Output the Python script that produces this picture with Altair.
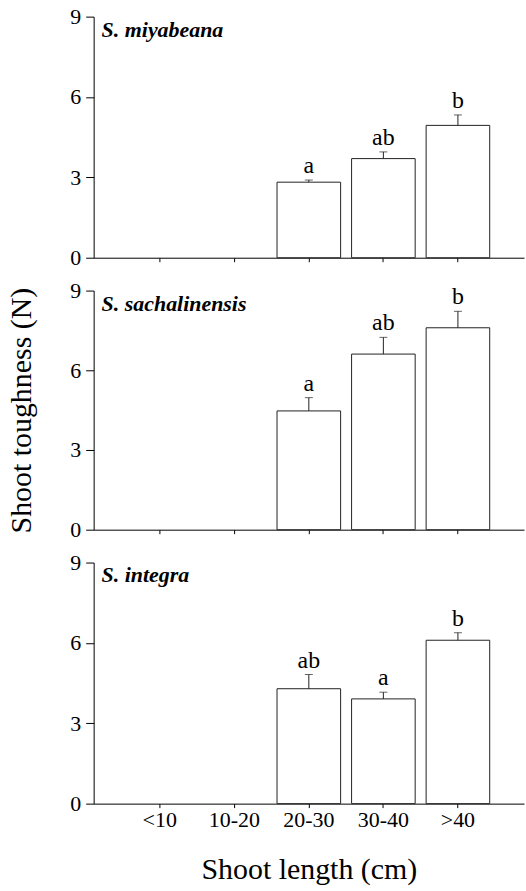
import altair as alt
import pandas as pd

categories = ["<10", "10-20", "20-30", "30-40", ">40"]
bar_cats = ["20-30", "30-40", ">40"]

species = ["S. miyabeana", "S. sachalinensis", "S. integra"]

miyabeana_mean = [2.82, 3.70, 4.94]
miyabeana_se = [0.08, 0.25, 0.39]
miyabeana_letters = ["a", "ab", "b"]

sachalinensis_mean = [4.47, 6.61, 7.60]
sachalinensis_se = [0.50, 0.63, 0.62]
sachalinensis_letters = ["a", "ab", "b"]

integra_mean = [4.29, 3.91, 6.10]
integra_se = [0.53, 0.25, 0.28]
integra_letters = ["ab", "a", "b"]

y_ticks = [0, 3, 6, 9]

FONT = "Liberation Serif, Times New Roman, serif"
W = 432


def panel(name, means, ses, letters, height, show_x, show_ytitle):
    df = pd.DataFrame({
        "cat": bar_cats,
        "mean": means,
        "top": [m + s for m, s in zip(means, ses)],
        "letter": letters,
    })
    xscale = alt.Scale(domain=categories, paddingInner=0.147, paddingOuter=0.46)
    xaxis = alt.Axis(
        title="Shoot length (cm)" if show_x else None,
        labels=show_x,
        labelAngle=0,
        labelFont=FONT, labelFontSize=22, labelColor="black", labelPadding=2,
        titleFont=FONT, titleFontSize=30, titleFontWeight="normal", titleColor="black",
        titlePadding=24,
        tickSize=4, tickColor="black", domainColor="black",
    )
    yaxis = alt.Axis(
        title="Shoot toughness (N)",
        titleOpacity=1 if show_ytitle else 0,
        values=y_ticks, grid=False,
        labelFont=FONT, labelFontSize=22, labelColor="black", labelPadding=5,
        titleFont=FONT, titleFontSize=30, titleFontWeight="normal", titleColor="black",
        titlePadding=33,
        tickSize=8, tickColor="black", domainColor="black",
    )
    x = alt.X("cat:N", scale=xscale, axis=xaxis, sort=categories)
    yscale = alt.Scale(domain=[0, 9], nice=False)
    base = alt.Chart(df)
    bars = base.mark_bar(fill="white", stroke="#222222", strokeWidth=1).encode(
        x=x, y=alt.Y("mean:Q", scale=yscale, axis=yaxis)
    )
    rules = base.mark_rule(color="#222222", strokeWidth=1).encode(
        x=alt.X("cat:N", sort=categories), y="mean:Q", y2="top:Q"
    )
    caps = base.mark_tick(color="#222222", size=8, thickness=1).encode(
        x=alt.X("cat:N", sort=categories), y="top:Q"
    )
    texts = base.mark_text(
        font=FONT, fontSize=24, baseline="alphabetic", dy=-7, color="black"
    ).encode(x=alt.X("cat:N", sort=categories), y="top:Q", text="letter:N")
    title = alt.Chart(pd.DataFrame({"sp": [name]})).mark_text(
        font=FONT, fontSize=22, fontStyle="italic", fontWeight="bold",
        align="left", baseline="alphabetic", color="black"
    ).encode(x=alt.value(8), y=alt.value(20), text="sp:N")
    return alt.layer(bars, rules, caps, texts, title).properties(width=W, height=height)


p1 = panel(species[0], miyabeana_mean, miyabeana_se, miyabeana_letters, 242, False, False)
p2 = panel(species[1], sachalinensis_mean, sachalinensis_se, sachalinensis_letters, 240, False, True)
p3 = panel(species[2], integra_mean, integra_se, integra_letters, 242, True, False)

chart = alt.vconcat(p1, p2, p3, spacing=11).properties(
    padding={"left": 6, "top": 4, "right": 2, "bottom": 5}
).configure(background="white", view=alt.ViewConfig(stroke=None))

chart.save("out.html", embed_options={"renderer": "svg", "actions": False})
